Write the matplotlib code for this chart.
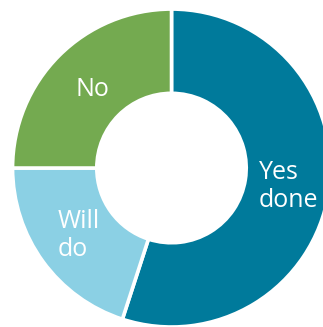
import matplotlib
matplotlib.use("Agg")
import matplotlib.pyplot as plt
import numpy as np

categories = ["Yes\ndone", "Will\ndo", "No"]
values = [55, 20, 25]
colors = ["#007A9B", "#8BD0E4", "#74AA50"]

fig = plt.figure(figsize=(3.23, 3.27), dpi=100)
ax = fig.add_axes([0, 0, 1, 1])
wedges, _ = ax.pie(values, colors=colors, startangle=90, counterclock=False,
                   radius=1.0, wedgeprops=dict(width=0.53, edgecolor="white", linewidth=2.6))
label_r = [0.745, 0.72, 0.70]
for w, lab, r in zip(wedges, categories, label_r):
    ang = np.deg2rad((w.theta1 + w.theta2) / 2)
    ax.text(r * np.cos(ang), r * np.sin(ang), lab, ha="center", va="center",
            multialignment="left", color="white", fontsize=18, family=["Open Sans", "DejaVu Sans"],
            linespacing=1.15)
ax.set_xlim(-1.079, 0.953)
ax.set_ylim(-1.0, 1.057)
ax.set_aspect("auto")
ax.axis("off")
fig.savefig("out.png", dpi=100)
